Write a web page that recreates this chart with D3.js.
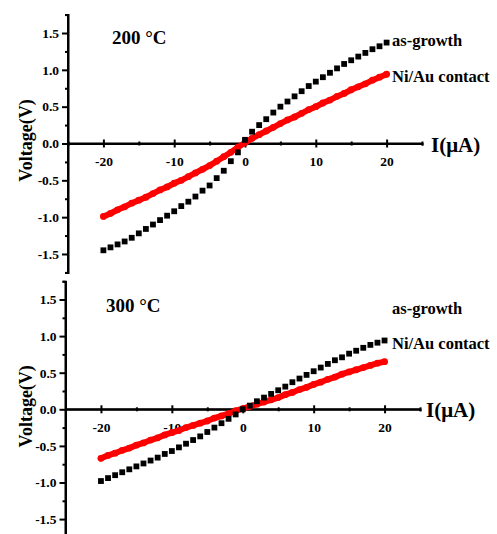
<!DOCTYPE html>
<html>
<head>
<meta charset="utf-8">
<script src="https://cdn.jsdelivr.net/npm/d3@7"></script>
<style>
  body { margin: 0; background: #fff; }
  svg text { font-family: "Liberation Serif", "Times New Roman", serif; font-weight: bold; fill: #000; }
</style>
</head>
<body>
<svg id="chart" width="497" height="534"></svg>
<script>
// current sweep, uA
const current = d3.range(-20, 21, 1);

// 200 C
const asGrowth200 = [-1.45, -1.41, -1.37, -1.33, -1.28, -1.22, -1.16, -1.10, -1.04, -0.98,
  -0.92, -0.85, -0.79, -0.72, -0.64, -0.57, -0.47, -0.37, -0.24, -0.12,
  0.05, 0.16, 0.25, 0.33, 0.42, 0.50, 0.57, 0.64, 0.71, 0.78,
  0.84, 0.90, 0.96, 1.02, 1.08, 1.13, 1.18, 1.23, 1.28, 1.32, 1.37];
const niAu200 = [-0.99, -0.95, -0.90, -0.86, -0.81, -0.77, -0.73, -0.68, -0.63, -0.59,
  -0.54, -0.50, -0.45, -0.40, -0.35, -0.30, -0.24, -0.18, -0.12, -0.05,
  0.01, 0.07, 0.12, 0.17, 0.22, 0.27, 0.32, 0.36, 0.41, 0.46,
  0.50, 0.55, 0.59, 0.64, 0.68, 0.73, 0.77, 0.81, 0.86, 0.90, 0.94];

// 300 C
const asGrowth300 = [-0.98, -0.94, -0.90, -0.86, -0.82, -0.78, -0.74, -0.70, -0.66, -0.61,
  -0.57, -0.52, -0.47, -0.42, -0.37, -0.31, -0.25, -0.19, -0.13, -0.07,
  0.00, 0.05, 0.11, 0.16, 0.21, 0.26, 0.31, 0.37, 0.42, 0.47,
  0.52, 0.57, 0.62, 0.67, 0.71, 0.76, 0.80, 0.84, 0.88, 0.91, 0.94];
const niAu300 = [-0.67, -0.63, -0.60, -0.56, -0.53, -0.49, -0.46, -0.42, -0.39, -0.35,
  -0.32, -0.29, -0.25, -0.22, -0.19, -0.16, -0.12, -0.09, -0.06, -0.02,
  0.01, 0.04, 0.07, 0.10, 0.13, 0.16, 0.20, 0.23, 0.27, 0.30,
  0.34, 0.37, 0.41, 0.44, 0.48, 0.51, 0.54, 0.57, 0.60, 0.63, 0.65];

const xMajor = [-20, -10, 0, 10, 20];
const xMinor = [-25, -15, -5, 5, 15, 25];
const yMajor = [-1.5, -1.0, -0.5, 0.0, 0.5, 1.0, 1.5];
const yMinor = [-1.75, -1.25, -0.75, -0.25, 0.25, 0.75, 1.25, 1.75];

const svg = d3.select("#chart");

const panels = [
  { title: "200 °C", black: asGrowth200, red: niAu200,
    left: 68, right: 422, zeroY: 143.5, top: 14.6, bottom: 272.4,
    titleX: 112, titleY: 44, growY: 46, niY: 82, unitY: 152, unitX: 431 },
  { title: "300 °C", black: asGrowth300, red: niAu300,
    left: 65.5, right: 420, zeroY: 409.3, top: 281.2, bottom: 537.4,
    titleX: 106, titleY: 312, growY: 314, niY: 349, unitY: 417, unitX: 426 }
];

panels.forEach(p => {
  const x = d3.scaleLinear().domain([-25, 25]).range([p.left, p.right]);
  const y = d3.scaleLinear().domain([-1.75, 1.75]).range([p.bottom, p.top]);
  const g = svg.append("g");

  // y axis
  const yAxis = g.append("g").attr("transform", `translate(${p.left},0)`)
    .call(d3.axisLeft(y).tickValues(yMajor).tickSize(6).tickPadding(3)
      .tickFormat(d => d.toFixed(1)));
  g.append("g").attr("transform", `translate(${p.left},0)`)
    .call(d3.axisLeft(y).tickValues(yMinor).tickSize(3).tickFormat(""));

  // x axis through V = 0
  const xAxis = g.append("g").attr("transform", `translate(0,${p.zeroY})`)
    .call(d3.axisBottom(x).tickValues(xMajor).tickSize(4).tickPadding(9)
      .tickFormat(d => d));
  xAxis.selectAll(".tick line").attr("y1", -4).attr("y2", 4);
  const xMin = g.append("g").attr("transform", `translate(0,${p.zeroY})`)
    .call(d3.axisBottom(x).tickValues(xMinor).tickSize(2).tickFormat(""));
  xMin.selectAll(".tick line").attr("y1", -2).attr("y2", 2);

  g.selectAll(".domain").attr("stroke", "#000").attr("stroke-width", 2);
  g.selectAll(".tick line").attr("stroke", "#000").attr("stroke-width", 2);
  g.selectAll(".tick text").attr("font-size", 13.5)
    .style("font-family", "'Liberation Serif', serif").style("font-weight", "bold");
  // axisLeft/axisBottom draw outer caps; keep plain lines
  yAxis.select(".domain").attr("d", `M0,${p.top}V${p.bottom}`);
  xAxis.select(".domain").attr("d", `M${p.left},0H${p.right}`);

  // Ni/Au contact, red
  const pts = current.map((c, i) => ({ c, v: p.red[i] }));
  g.append("path").datum(pts)
    .attr("fill", "none").attr("stroke", "#f00").attr("stroke-width", 6)
    .attr("stroke-linecap", "round")
    .attr("d", d3.line().x(d => x(d.c)).y(d => y(d.v)));
  g.selectAll(".red").data(pts).join("circle")
    .attr("cx", d => x(d.c)).attr("cy", d => y(d.v)).attr("r", 3.4).attr("fill", "#f00");

  // as-growth, black squares
  g.selectAll(".blk").data(current.map((c, i) => ({ c, v: p.black[i] }))).join("rect")
    .attr("x", d => x(d.c) - 2.9).attr("y", d => y(d.v) - 2.9)
    .attr("width", 5.8).attr("height", 5.8).attr("fill", "#000");

  // labels
  g.append("text").attr("x", p.titleX).attr("y", p.titleY).attr("font-size", 19).text(p.title);
  g.append("text").attr("x", 392).attr("y", p.growY).attr("font-size", 16.5).text("as-growth");
  g.append("text").attr("x", 392).attr("y", p.niY).attr("font-size", 16.5).text("Ni/Au contact");
  g.append("text").attr("x", p.unitX).attr("y", p.unitY).attr("font-size", 21).text("I(μA)");
  g.append("text")
    .attr("transform", `translate(32,${p.zeroY - 3}) rotate(-90)`)
    .attr("text-anchor", "middle").attr("font-size", 18).text("Voltage(V)");
});
</script>
</body>
</html>
